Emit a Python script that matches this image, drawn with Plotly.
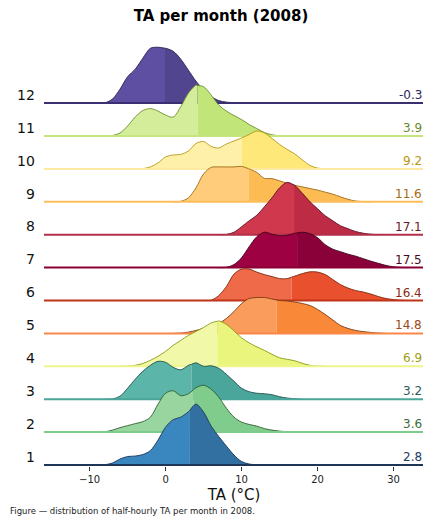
import numpy as np
import plotly.graph_objects as go

# Temperature grid (°C) on which the ridge densities were read
TEMP = list(range(-10, 33))

# Relative density per month (same scale for all months), on TEMP grid
M1 = [0, 0, 0.3, 2, 6, 8.5, 9, 10.5, 14.5, 25, 38, 45.5, 48, 53.5, 61, 53, 39, 28.5, 19, 10, 3.5, 1, 0.2,
      0, 0, 0, 0, 0, 0, 0, 0, 0, 0, 0, 0, 0, 0, 0, 0, 0, 0, 0, 0]
M2 = [0, 0, 0.3, 2, 4.5, 6.5, 8.5, 10.5, 15, 28, 39, 41.5, 36.5, 38.5, 44.5, 47, 43, 35, 24, 15, 10, 7.7, 6,
      3.5, 2, 1, 0.4, 0, 0, 0, 0, 0, 0, 0, 0, 0, 0, 0, 0, 0, 0, 0, 0]
M3 = [0, 0, 0, 0.3, 3, 11, 20, 28, 34, 38, 37, 32, 29.5, 34, 36.5, 33, 33.5, 31, 25, 18, 11, 7.5, 6,
      5.5, 4.5, 2.5, 1.2, 0.4, 0, 0, 0, 0, 0, 0, 0, 0, 0, 0, 0, 0, 0, 0, 0]
M4 = [0, 0, 0, 0, 0, 0.3, 1, 2.8, 6, 10, 15, 21, 26, 31, 35, 39, 43.5, 45.5, 42, 35.5, 28.5, 23.5, 19.5,
      16, 12, 8.5, 7, 5.5, 3, 1, 0.2, 0, 0, 0, 0, 0, 0, 0, 0, 0, 0, 0, 0]
M5 = [0, 0, 0, 0, 0, 0, 0, 0, 0, 0, 0, 0, 0.3, 1.3, 3, 5, 7, 10, 15, 22, 30, 35, 36,
      36, 34.5, 33, 32.5, 31.5, 30, 28, 24, 19, 13.5, 8, 5, 3, 1.8, 1, 0.4, 0, 0, 0, 0]
M6 = [0, 0, 0, 0, 0, 0, 0, 0, 0, 0, 0, 0, 0, 0, 0, 0, 0.3, 5, 14, 26.5, 31.5, 31.5, 28.5,
      26, 24, 22, 22, 24.5, 27, 28.8, 28.5, 26, 21, 16, 12.5, 10, 8.5, 6.5, 4, 2, 1, 0.3, 0]
M7 = [0, 0, 0, 0, 0, 0, 0, 0, 0, 0, 0, 0, 0, 0, 0, 0, 0, 0, 0.3, 3, 10, 21, 31,
      35.5, 33.5, 32, 32.5, 34.5, 35.5, 34, 30, 23, 18.5, 16, 13.5, 11.5, 9, 6.5, 4.3, 2.2, 0.8, 0.2, 0]
M8 = [0, 0, 0, 0, 0, 0, 0, 0, 0, 0, 0, 0, 0, 0, 0, 0, 0, 0, 0.3, 2.5, 8, 14, 19.5,
      28, 37, 47, 52.5, 49.5, 41.5, 33, 26, 19, 14, 9, 6, 3.2, 1.5, 0.5, 0, 0, 0, 0, 0]
M9 = [0, 0, 0, 0, 0, 0, 0, 0, 0, 0, 0, 0, 0.5, 4, 14, 28, 34.5, 35, 35, 35, 35.5, 33, 29.5,
      23.5, 23.3, 21, 18.5, 16.5, 15, 13.3, 11.7, 9.7, 7.7, 5, 2.5, 0.8, 0.2, 0, 0, 0, 0, 0, 0]
M10 = [0, 0, 0, 0, 0, 0, 0, 0.3, 2, 6, 12, 14, 14.5, 18, 25.5, 27.5, 22.5, 21, 25, 28, 31, 34.5, 38,
       36, 30.5, 24.5, 19.5, 15, 9, 3.5, 0.8, 0.2, 0, 0, 0, 0, 0, 0, 0, 0, 0, 0, 0]
M11 = [0, 0, 0, 0.5, 3, 10, 19, 25.5, 27.5, 25, 21, 19, 29.5, 43, 51, 49.5, 41, 31, 25, 20.5, 16.5, 11.5, 7.5,
       3.5, 1.2, 0.3, 0, 0, 0, 0, 0, 0, 0, 0, 0, 0, 0, 0, 0, 0, 0, 0, 0]
M12 = [0, 0, 0.3, 4, 14, 26.5, 34, 45, 55, 56, 55, 52, 44, 33, 22, 13, 6.5, 2.5, 1, 0.3, 0, 0, 0,
       0, 0, 0, 0, 0, 0, 0, 0, 0, 0, 0, 0, 0, 0, 0, 0, 0, 0, 0, 0]

MONTHS = [1, 2, 3, 4, 5, 6, 7, 8, 9, 10, 11, 12]
DENSITIES = [M1, M2, M3, M4, M5, M6, M7, M8, M9, M10, M11, M12]
SPLITS = [3.2, 3.7, 3.4, 6.8, 14.6, 16.6, 17.3, 16.9, 10.9, 10.0, 4.2, -0.2]
LABELS = [2.8, 3.6, 3.2, 6.9, 14.8, 16.4, 17.5, 17.1, 11.6, 9.2, 3.9, -0.3]

LEFT_COL = ["#3a86bf", "#99d59f", "#5bb5a9", "#f1f9a9", "#f99c5c", "#ef6a48",
            "#9e0142", "#d0384e", "#fecc7b", "#fef0a8", "#d3ed9b", "#5e4fa2"]
RIGHT_COL = ["#3370a2", "#80cc8c", "#4aa59a", "#e9f57d", "#f98838", "#e8502e",
             "#8a0039", "#be2b45", "#fdbb54", "#fee87a", "#c2e57a", "#52458f"]
EDGE_COL = ["#1d3557", "#2f5e2f", "#23504a", "#8a9a10", "#7a3a10", "#7a2a10",
            "#40001a", "#5a1020", "#9a6a15", "#b59a17", "#6d8e2e", "#2a2050"]
BASE_COL = ["#1d3557", "#7fcb8a", "#4aa59a", "#eef58c", "#f9874a", "#c0351a",
            "#8a0035", "#b03048", "#fdbe5a", "#fde9a0", "#c5e67e", "#3a2f70"]
TEXT_COL = ["#1f3a5f", "#3a6a3a", "#2a5a5a", "#9aa010", "#9a4a1a", "#8a2a10",
            "#4a0a25", "#6a1a2a", "#a86a10", "#b8960e", "#6b8a2a", "#2d2560"]

XMIN, XMAX = -16, 34
SCALE = 1 / 33.0  # density units -> ridge spacing

FONT = "DejaVu Sans"
fig = go.Figure()
temp = np.array(TEMP, dtype=float)

for i in reversed(range(12)):
    base = MONTHS[i] - 1
    dens = np.array(DENSITIES[i], dtype=float) * SCALE
    nz = np.nonzero(dens)[0]
    lo = max(nz[0] - 1, 0)
    hi = min(nz[-1] + 1, len(temp) - 1)
    t = temp[lo:hi + 1]
    d = dens[lo:hi + 1]
    s = SPLITS[i]
    ds = float(np.interp(s, t, d))
    lm = t < s
    rm = t > s
    halves = [
        (np.append(t[lm], s), np.append(d[lm], ds), LEFT_COL[i]),
        (np.insert(t[rm], 0, s), np.insert(d[rm], 0, ds), RIGHT_COL[i]),
    ]
    for hx, hy, col in halves:
        fig.add_trace(go.Scatter(x=[hx[0], hx[-1]], y=[base, base], mode="lines",
                                 line=dict(width=0), hoverinfo="skip", showlegend=False))
        fig.add_trace(go.Scatter(x=hx, y=hy + base, mode="lines", fill="tonexty",
                                 fillcolor=col,
                                 line=dict(color=EDGE_COL[i], width=0.9, shape="spline", smoothing=0.9),
                                 hoverinfo="skip", showlegend=False, cliponaxis=False))
    fig.add_trace(go.Scatter(x=[XMIN, XMAX], y=[base, base], mode="lines",
                             line=dict(color=BASE_COL[i], width=2),
                             hoverinfo="skip", showlegend=False, cliponaxis=False))

annotations = []
for i in range(12):
    base = MONTHS[i] - 1
    annotations.append(dict(x=-0.018, xref="paper", y=base + 0.25, yref="y",
                            text=str(MONTHS[i]), showarrow=False, xanchor="right", yanchor="middle",
                            font=dict(family=FONT, size=14, color="#111")))
    annotations.append(dict(x=XMAX, xref="x", y=base, yref="y", text=f"{LABELS[i]:.1f}",
                            showarrow=False, xanchor="right", yanchor="bottom", yshift=-1,
                            font=dict(family=FONT, size=12, color=TEXT_COL[i])))
annotations.append(dict(x=-0.0947, xref="paper", y=-0.1044, yref="paper",
                        text="Figure — distribution of half-hourly TA per month in 2008.",
                        showarrow=False, xanchor="left", yanchor="middle",
                        font=dict(family=FONT, size=8.5, color="#222")))

# The page body adds an 8px margin, so the figure is sized to the visible area.
fig.update_layout(
    width=423, height=515,
    margin=dict(l=36, r=7, t=27, b=57),
    paper_bgcolor="white", plot_bgcolor="white",
    title=dict(text="<b>TA per month (2008)</b>", xref="container", x=213 / 423,
               y=1 - 8 / 515, yref="container", xanchor="center", yanchor="middle",
               font=dict(family=FONT, size=15, color="#000")),
    xaxis=dict(range=[XMIN, XMAX], tickvals=[-10, 0, 10, 20, 30], ticks="outside",
               ticklen=4, tickwidth=1, tickcolor="#333", showgrid=False, zeroline=False,
               showline=False, tickfont=dict(family=FONT, size=10, color="#222"),
               title=dict(text="TA (°C)", font=dict(family=FONT, size=15, color="#111"), standoff=5)),
    yaxis=dict(range=[-0.03, 13.07], visible=False, showgrid=False, zeroline=False),
    annotations=annotations,
    showlegend=False,
)

fig.write_html("out.html")
